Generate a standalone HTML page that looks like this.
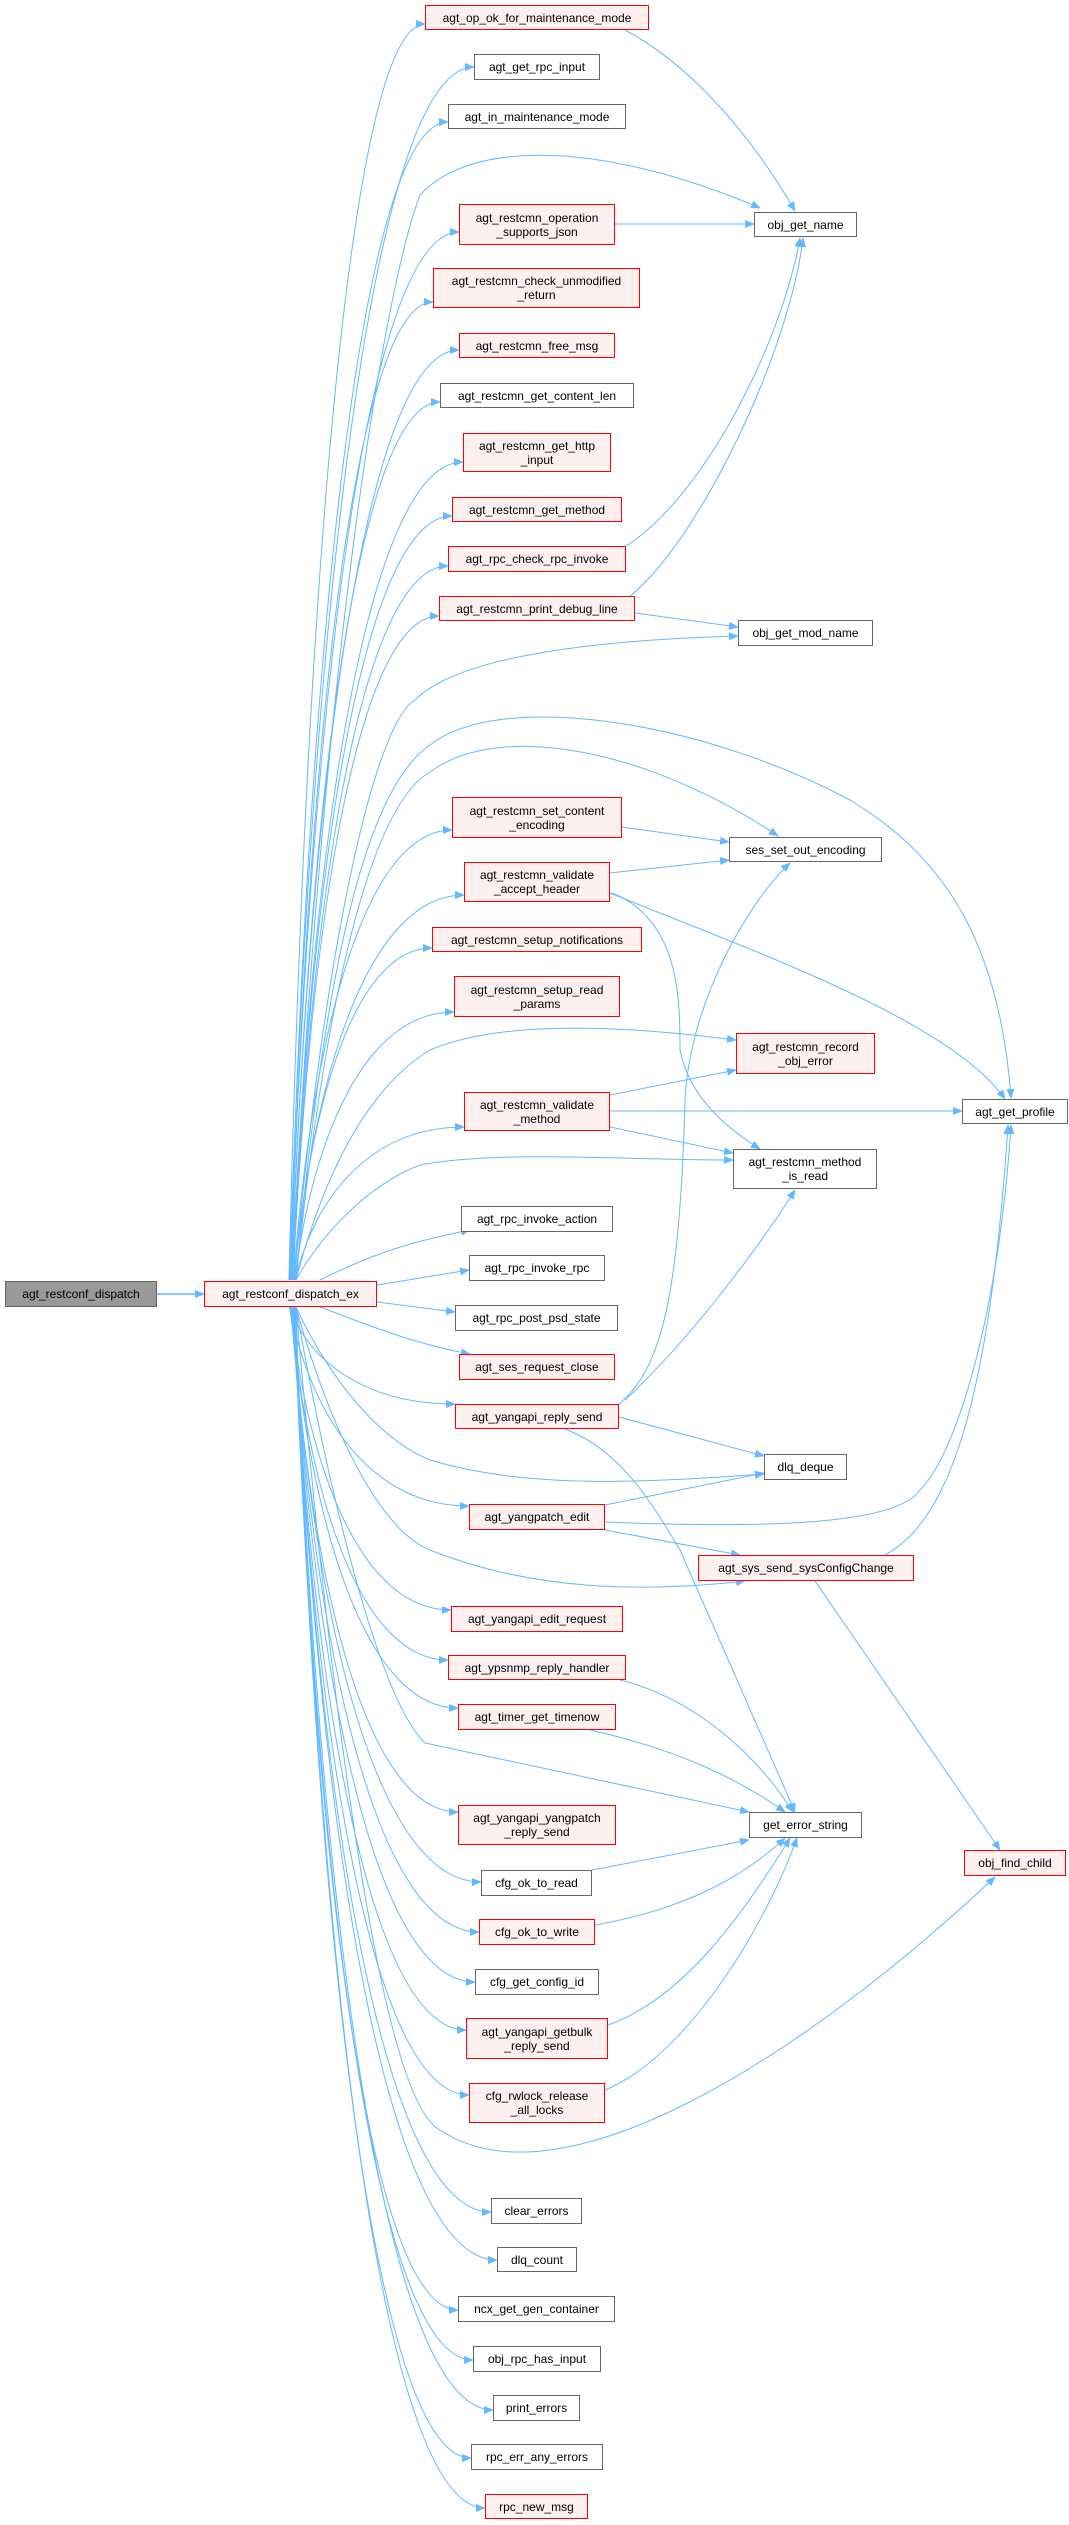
<!DOCTYPE html>
<html><head><meta charset="utf-8"><style>
body{margin:0;background:#fff;width:1069px;height:2525px;position:relative;overflow:hidden;font-family:"Liberation Sans",Arial,sans-serif}
.n{position:absolute;box-sizing:border-box;border:1px solid #666;background:#fff;font-size:12px;line-height:14px;color:#000;display:flex;align-items:center;justify-content:center;text-align:center;white-space:pre}
.r{border-color:#f00;background:#fff0f0}
.g{background:#999;border-color:#666}
svg{position:absolute;left:0;top:0}
</style></head><body>
<svg width="1069" height="2525" id="s">
<defs><marker id="a" markerWidth="10" markerHeight="8" refX="9" refY="4" orient="auto" markerUnits="userSpaceOnUse"><path d="M0,0 L10,4 L0,8 z" fill="#63b8ff"/></marker></defs>
<g id="e" fill="none" stroke="#63b8ff" stroke-width="1" marker-end="url(#a)">
<path d="M157,1294 L204,1294" stroke-width="1.5"/>
<path d="M292,1280 C320,700 380,300 420,195 C470,140 600,140 760,208"/>
<path d="M294,1280 C330,900 380,720 415,700 C460,655 600,640 738,636"/>
<path d="M296,1280 C330,900 380,780 430,745 C500,690 700,720 850,800 C950,860 1000,950 1011,1098"/>
<path d="M296,1280 C330,950 380,800 430,772 C500,720 650,750 778,836"/>
<path d="M296,1280 C330,1150 380,1080 430,1050 C500,1020 620,1025 736,1040"/>
<path d="M296,1280 C330,1220 380,1180 420,1165 C500,1150 620,1160 733,1160"/>
<path d="M296,1307 C330,1380 380,1440 430,1460 C530,1490 650,1482 764,1474"/>
<path d="M296,1307 C330,1430 380,1530 430,1550 C530,1590 640,1593 745,1581"/>
<path d="M296,1307 C330,1500 380,1700 425,1743 L749,1812"/>
<path d="M296,1307 C330,1700 380,2100 440,2130 C560,2210 800,2060 995,1877"/>
<path d="M625,30 C700,70 760,150 795,211"/>
<path d="M615,224 L754,224"/>
<path d="M626,546 C700,500 780,350 800,238"/>
<path d="M630,596 C700,540 790,350 803,238"/>
<path d="M635,613 L738,627"/>
<path d="M622,827 L729,842"/>
<path d="M610,873 L729,860"/>
<path d="M610,893 C750,950 950,1020 1005,1099"/>
<path d="M612,893 C680,920 680,1000 680,1050 C690,1100 730,1130 760,1149"/>
<path d="M610,1095 L736,1070"/>
<path d="M610,1111 L962,1111"/>
<path d="M610,1127 L733,1153"/>
<path d="M619,1404 C660,1370 680,1300 685,1100 C690,1000 750,900 790,863"/>
<path d="M625,1400 C700,1330 770,1230 795,1190"/>
<path d="M619,1417 L764,1456"/>
<path d="M565,1429 C620,1450 650,1500 680,1550 L795,1812"/>
<path d="M605,1505 L764,1473"/>
<path d="M605,1522 C800,1530 900,1520 920,1490 C960,1450 1000,1300 1011,1125"/>
<path d="M605,1530 L740,1555"/>
<path d="M885,1555 C950,1520 990,1400 1008,1125"/>
<path d="M815,1581 L1000,1850"/>
<path d="M620,1680 C700,1700 760,1760 793,1812"/>
<path d="M590,1730 C680,1750 740,1780 785,1812"/>
<path d="M592,1870 L749,1840"/>
<path d="M595,1925 C680,1910 740,1880 785,1838"/>
<path d="M608,2025 C680,2000 740,1920 790,1838"/>
<path d="M605,2090 C680,2060 760,1940 797,1838"/>
<path d="M377,1302 L455,1312"/>
<path d="M377,1285 L469,1270"/>
<path d="M320,1280 C380,1250 420,1240 470,1230"/>
<path d="M320,1307 C380,1330 420,1345 470,1354"/>
</g></svg>
<script>
(function(){
var g=document.getElementById('e');
var up=[[425,24],[474,67],[448,122],[459,232],[433,302],[459,350],[440,402],[463,462],[452,516],[448,566],[439,616],[452,830],[464,895],[432,948],[454,1012],[464,1127]];
var dn=[[455,1404],[469,1506],[451,1610],[448,1660],[458,1708],[458,1812],[481,1882],[479,1932],[475,1982],[466,2030],[469,2095],[491,2212],[497,2260],[458,2310],[473,2360],[493,2410],[471,2458],[485,2508]];
function add(sx,sy,ex,ey){var p=document.createElementNS('http://www.w3.org/2000/svg','path');
var d='M'+sx+','+sy+' C'+(sx+(ex-sx)*0.12)+','+(ey+(sy-ey)*0.45)+' '+(sx+(ex-sx)*0.45)+','+ey+' '+ex+','+ey;p.setAttribute('d',d);g.appendChild(p);}
up.forEach(function(t,i){add(289+i*0.4,1280,t[0],t[1]);});
dn.forEach(function(t,i){add(289+i*0.4,1307,t[0],t[1]);});
})();
</script>
<div class="n g" style="left:5px;top:1281px;width:152px;height:26px">agt_restconf_dispatch</div>
<div class="n r" style="left:204px;top:1281px;width:173px;height:26px">agt_restconf_dispatch_ex</div>
<div class="n r" style="left:425px;top:5px;width:224px;height:25px">agt_op_ok_for_maintenance_mode</div>
<div class="n" style="left:474px;top:54px;width:126px;height:26px">agt_get_rpc_input</div>
<div class="n" style="left:448px;top:104px;width:178px;height:25px">agt_in_maintenance_mode</div>
<div class="n r" style="left:459px;top:204px;width:156px;height:41px">agt_restcmn_operation
_supports_json</div>
<div class="n" style="left:754px;top:212px;width:103px;height:25px">obj_get_name</div>
<div class="n r" style="left:433px;top:268px;width:207px;height:40px">agt_restcmn_check_unmodified
_return</div>
<div class="n r" style="left:459px;top:333px;width:156px;height:25px">agt_restcmn_free_msg</div>
<div class="n" style="left:440px;top:383px;width:194px;height:25px">agt_restcmn_get_content_len</div>
<div class="n r" style="left:463px;top:433px;width:148px;height:39px">agt_restcmn_get_http
_input</div>
<div class="n r" style="left:452px;top:497px;width:170px;height:25px">agt_restcmn_get_method</div>
<div class="n r" style="left:448px;top:546px;width:178px;height:26px">agt_rpc_check_rpc_invoke</div>
<div class="n r" style="left:439px;top:596px;width:196px;height:25px">agt_restcmn_print_debug_line</div>
<div class="n" style="left:738px;top:620px;width:135px;height:26px">obj_get_mod_name</div>
<div class="n r" style="left:452px;top:797px;width:170px;height:41px">agt_restcmn_set_content
_encoding</div>
<div class="n" style="left:729px;top:837px;width:153px;height:25px">ses_set_out_encoding</div>
<div class="n r" style="left:464px;top:862px;width:146px;height:40px">agt_restcmn_validate
_accept_header</div>
<div class="n r" style="left:432px;top:927px;width:210px;height:25px">agt_restcmn_setup_notifications</div>
<div class="n r" style="left:454px;top:976px;width:166px;height:41px">agt_restcmn_setup_read
_params</div>
<div class="n r" style="left:736px;top:1033px;width:139px;height:41px">agt_restcmn_record
_obj_error</div>
<div class="n r" style="left:464px;top:1092px;width:146px;height:39px">agt_restcmn_validate
_method</div>
<div class="n" style="left:962px;top:1099px;width:106px;height:25px">agt_get_profile</div>
<div class="n" style="left:733px;top:1149px;width:144px;height:40px">agt_restcmn_method
_is_read</div>
<div class="n" style="left:461px;top:1206px;width:152px;height:26px">agt_rpc_invoke_action</div>
<div class="n" style="left:469px;top:1255px;width:136px;height:26px">agt_rpc_invoke_rpc</div>
<div class="n" style="left:455px;top:1305px;width:163px;height:26px">agt_rpc_post_psd_state</div>
<div class="n r" style="left:459px;top:1354px;width:156px;height:26px">agt_ses_request_close</div>
<div class="n r" style="left:455px;top:1404px;width:164px;height:25px">agt_yangapi_reply_send</div>
<div class="n" style="left:764px;top:1454px;width:83px;height:26px">dlq_deque</div>
<div class="n r" style="left:469px;top:1504px;width:136px;height:26px">agt_yangpatch_edit</div>
<div class="n r" style="left:698px;top:1555px;width:216px;height:26px">agt_sys_send_sysConfigChange</div>
<div class="n r" style="left:451px;top:1606px;width:172px;height:26px">agt_yangapi_edit_request</div>
<div class="n r" style="left:448px;top:1655px;width:178px;height:25px">agt_ypsnmp_reply_handler</div>
<div class="n r" style="left:458px;top:1704px;width:158px;height:26px">agt_timer_get_timenow</div>
<div class="n r" style="left:458px;top:1805px;width:158px;height:40px">agt_yangapi_yangpatch
_reply_send</div>
<div class="n" style="left:749px;top:1812px;width:113px;height:26px">get_error_string</div>
<div class="n r" style="left:964px;top:1850px;width:102px;height:26px">obj_find_child</div>
<div class="n" style="left:481px;top:1870px;width:111px;height:26px">cfg_ok_to_read</div>
<div class="n r" style="left:479px;top:1919px;width:116px;height:26px">cfg_ok_to_write</div>
<div class="n" style="left:475px;top:1969px;width:124px;height:26px">cfg_get_config_id</div>
<div class="n r" style="left:466px;top:2018px;width:142px;height:41px">agt_yangapi_getbulk
_reply_send</div>
<div class="n r" style="left:469px;top:2083px;width:136px;height:40px">cfg_rwlock_release
_all_locks</div>
<div class="n" style="left:491px;top:2198px;width:91px;height:26px">clear_errors</div>
<div class="n" style="left:497px;top:2247px;width:80px;height:25px">dlq_count</div>
<div class="n" style="left:458px;top:2296px;width:157px;height:26px">ncx_get_gen_container</div>
<div class="n" style="left:473px;top:2346px;width:128px;height:26px">obj_rpc_has_input</div>
<div class="n" style="left:493px;top:2395px;width:87px;height:26px">print_errors</div>
<div class="n" style="left:471px;top:2444px;width:132px;height:26px">rpc_err_any_errors</div>
<div class="n r" style="left:485px;top:2494px;width:103px;height:25px">rpc_new_msg</div>
</body></html>
